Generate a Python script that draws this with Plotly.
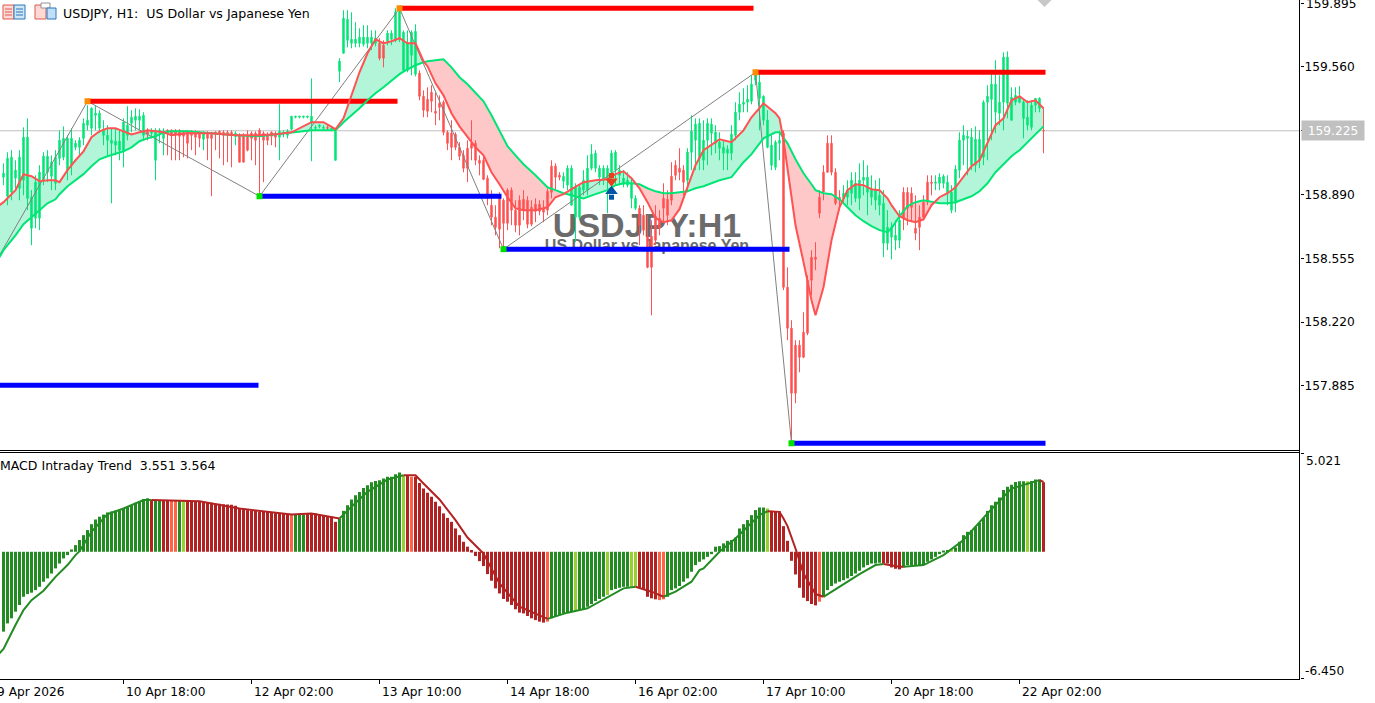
import plotly.graph_objects as go

# ---------- candles (USDJPY H1), one entry per bar ----------
opens = [
158.981,158.881,158.902,158.976,158.923,158.965,158.87,158.713,158.766,158.766,
158.965,159.007,158.986,158.949,159.08,159.086,159.018,159.044,159.138,159.138,
159.185,159.254,159.238,159.306,159.238,159.201,159.175,159.159,159.149,159.123,
159.123,159.201,159.264,159.28,159.28,159.201,159.227,159.212,159.07,159.217,
159.185,159.227,159.227,159.227,159.227,159.217,159.222,159.222,159.217,159.212,
159.18,159.212,159.206,159.217,159.222,159.217,159.217,159.217,159.196,159.201,
159.201,159.196,159.212,159.212,159.227,159.212,159.206,159.217,159.212,159.191,
159.212,159.201,159.233,159.296,159.296,159.296,159.296,159.27,159.238,159.248,
159.238,159.243,159.233,159.07,159.537,159.632,159.70,159.684,159.684,159.684,
159.679,159.684,159.684,159.684,159.684,159.674,159.695,159.705,159.70,159.711,
159.542,159.542,159.621,159.522,159.527,159.406,159.39,159.427,159.327,159.369,
159.375,159.217,159.212,159.206,159.138,159.096,159.133,159.159,159.159,159.07,
159.07,158.976,158.834,158.771,158.876,158.86,158.913,158.913,158.808,158.86,
158.865,158.86,158.823,158.839,158.839,158.818,158.907,159.039,159.039,158.991,
158.96,158.939,158.834,158.771,158.771,158.913,158.913,159.028,159.028,158.981,
158.965,158.976,159.007,159.018,158.991,158.944,158.939,158.87,158.818,158.818,
158.781,158.671,158.671,158.776,158.766,158.87,158.865,158.986,159.044,159.028,
159.018,158.965,159.112,159.175,159.08,159.07,159.175,159.212,159.159,159.133,
159.107,159.107,159.107,159.201,159.322,159.364,159.375,159.38,159.49,159.395,
159.28,159.138,159.044,159.033,159.159,159.212,158.403,158.188,158.099,158.099,
158.167,158.44,158.561,158.561,158.876,159.007,159.159,159.159,159.007,158.876,
158.87,158.876,158.897,158.87,158.87,158.965,158.902,158.876,158.86,158.834,
158.634,158.634,158.666,158.65,158.65,158.902,158.902,158.897,158.713,158.771,
158.85,158.955,158.955,158.949,158.949,158.949,158.897,158.808,158.844,159.018,
159.175,159.185,159.044,159.044,159.07,159.086,159.375,159.39,159.322,159.317,
159.375,159.369,159.28,159.375,159.375,159.29,159.254,159.243,159.359,159.343,159.227]
highs = [
159.054,159.112,159.123,159.07,159.123,159.243,159.29,158.913,158.991,159.044,
159.112,159.123,159.096,159.123,159.227,159.248,159.201,159.238,159.175,159.191,
159.29,159.359,159.348,159.359,159.333,159.28,159.254,159.238,159.238,159.227,
159.29,159.354,159.333,159.343,159.338,159.322,159.238,159.238,159.238,159.238,
159.238,159.233,159.233,159.233,159.233,159.227,159.227,159.227,159.227,159.222,
159.222,159.222,159.217,159.222,159.227,159.227,159.227,159.227,159.222,159.212,
159.212,159.227,159.222,159.222,159.238,159.222,159.217,159.222,159.222,159.364,
159.227,159.233,159.301,159.301,159.301,159.301,159.301,159.5,159.254,159.259,
159.254,159.254,159.248,159.238,159.606,159.858,159.858,159.847,159.795,159.763,
159.779,159.779,159.752,159.752,159.711,159.70,159.752,159.752,159.868,159.868,
159.752,159.752,159.752,159.784,159.542,159.437,159.453,159.464,159.427,159.411,
159.385,159.227,159.28,159.217,159.165,159.123,159.175,159.28,159.175,159.096,
159.096,158.991,158.913,158.834,158.902,158.87,158.923,158.928,158.86,158.886,
158.913,158.881,158.86,158.87,158.86,158.86,158.923,159.07,159.054,159.007,
159.007,159.044,159.044,158.949,158.939,159.018,159.096,159.154,159.123,159.044,
159.044,159.044,159.123,159.123,159.044,159.018,159.007,158.976,158.886,158.834,
158.834,158.781,158.755,158.834,158.808,158.949,158.913,159.06,159.07,159.133,
159.044,159.133,159.306,159.29,159.29,159.28,159.29,159.29,159.254,159.217,
159.175,159.149,159.254,159.375,159.427,159.448,159.464,159.516,159.532,159.532,
159.411,159.333,159.201,159.175,159.227,159.227,158.508,158.23,158.125,158.125,
158.272,158.466,158.598,158.64,158.913,159.044,159.201,159.201,159.028,158.913,
158.939,158.965,159.007,159.007,159.054,159.07,159.044,158.991,158.965,158.976,
158.913,158.808,158.745,158.755,158.808,158.928,158.928,158.928,158.886,158.834,
158.886,158.991,158.991,158.991,159.002,158.996,158.991,158.939,159.044,159.217,
159.254,159.227,159.238,159.248,159.227,159.385,159.464,159.532,159.595,159.516,
159.637,159.642,159.453,159.453,159.459,159.385,159.385,159.385,159.395,159.401,159.343]
lows = [
158.939,158.834,158.86,158.913,158.86,158.886,158.808,158.624,158.713,158.703,
158.939,158.955,158.913,158.913,159.044,159.07,158.965,158.991,159.123,159.096,
159.149,159.227,159.201,159.227,159.212,159.149,159.096,158.844,159.096,159.07,
159.033,159.175,159.217,159.227,159.227,159.175,159.175,159.185,158.965,159.159,
159.096,159.096,159.07,159.07,159.07,159.086,159.08,159.123,159.096,159.138,
159.123,159.07,158.881,159.123,159.08,159.044,159.06,159.033,159.149,159.06,
159.06,159.117,159.07,159.044,158.892,158.955,159.149,159.149,159.138,159.07,
159.191,159.185,159.227,159.29,159.29,159.29,159.29,159.065,159.227,159.238,
159.227,159.227,159.222,159.07,159.48,159.632,159.663,159.658,159.663,159.663,
159.668,159.658,159.648,159.668,159.595,159.558,159.674,159.674,159.69,159.69,
159.532,159.532,159.516,159.511,159.385,159.296,159.296,159.322,159.254,159.28,
159.201,159.123,159.07,159.123,159.07,159.007,158.955,159.07,159.044,158.991,
158.965,158.834,158.729,158.676,158.608,158.598,158.703,158.729,158.692,158.676,
158.755,158.713,158.724,158.745,158.781,158.745,158.781,158.87,158.913,158.965,
158.923,158.913,158.834,158.64,158.755,158.886,158.886,159.018,159.007,158.939,
158.939,158.792,158.939,158.939,158.939,158.928,158.928,158.818,158.808,158.624,
158.676,158.503,158.256,158.624,158.676,158.745,158.729,158.834,158.965,158.965,
158.886,158.902,159.018,159.018,159.018,159.018,159.044,159.096,159.107,159.07,
159.018,159.018,159.07,159.175,159.28,159.322,159.322,159.364,159.464,159.227,
159.254,159.133,159.018,159.018,159.07,158.388,158.125,157.6,157.794,157.957,
158.031,158.151,158.361,158.493,158.766,158.86,159.007,158.991,158.834,158.808,
158.844,158.834,158.834,158.85,158.808,158.886,158.781,158.834,158.808,158.781,
158.561,158.598,158.55,158.598,158.608,158.703,158.729,158.745,158.65,158.598,
158.755,158.834,158.886,158.913,158.913,158.923,158.834,158.792,158.797,158.976,
159.044,158.991,159.018,159.007,159.028,159.044,159.07,159.175,159.212,159.254,
159.227,159.29,159.28,159.359,159.369,159.185,159.227,159.227,159.322,159.322,159.107]
closes = [
159.002,159.08,159.086,159.018,159.086,159.191,159.191,158.876,158.955,159.007,
159.091,159.091,159.06,159.086,159.175,159.185,159.185,159.185,159.159,159.175,
159.264,159.28,159.343,159.317,159.317,159.227,159.201,159.175,159.17,159.17,
159.27,159.254,159.296,159.301,159.301,159.306,159.206,159.227,159.217,159.227,
159.222,159.212,159.201,159.206,159.196,159.196,159.159,159.201,159.191,159.185,
159.212,159.185,159.185,159.206,159.212,159.201,159.201,159.201,159.212,159.06,
159.06,159.123,159.185,159.175,159.196,159.175,159.175,159.196,159.191,159.222,
159.217,159.222,159.301,159.301,159.301,159.301,159.301,159.301,159.243,159.254,
159.243,159.238,159.238,159.222,159.59,159.816,159.81,159.705,159.705,159.716,
159.716,159.716,159.716,159.711,159.606,159.606,159.737,159.737,159.847,159.852,
159.742,159.684,159.742,159.747,159.406,159.333,159.327,159.38,159.317,159.348,
159.217,159.159,159.138,159.138,159.091,159.028,159.028,159.133,159.07,159.054,
158.97,158.87,158.771,158.718,158.708,158.739,158.739,158.808,158.729,158.729,
158.808,158.734,158.734,158.802,158.802,158.797,158.808,158.902,158.981,158.981,
158.986,159.028,159.028,158.928,158.928,158.965,159.028,159.102,159.107,159.028,
159.028,159.028,159.107,159.112,159.018,158.976,158.965,158.949,158.87,158.729,
158.703,158.508,158.508,158.65,158.713,158.818,158.781,158.86,158.991,159.007,
158.955,159.112,159.222,159.259,159.264,159.175,159.264,159.259,159.217,159.165,
159.138,159.128,159.206,159.322,159.364,159.375,159.39,159.469,159.527,159.48,
159.406,159.28,159.149,159.165,159.175,158.403,158.188,157.847,157.847,158.036,
158.036,158.162,158.44,158.55,158.792,158.902,159.007,159.007,158.844,158.86,
158.897,158.913,158.965,158.949,158.965,158.981,158.981,158.913,158.913,158.886,
158.844,158.718,158.718,158.676,158.755,158.766,158.818,158.823,158.687,158.718,
158.771,158.85,158.949,158.955,158.981,158.986,158.955,158.902,159.023,159.175,
159.201,159.196,159.191,159.18,159.18,159.375,159.406,159.469,159.469,159.375,
159.611,159.611,159.401,159.411,159.401,159.375,159.296,159.359,159.395,159.395,159.225]

# ---------- moving averages, read at these bars ----------
ma_bars = [-1,0,3,5,7,9,11,13,14,16,18,20,22,24,26,28,30,32,34,36,38,40,42,46,52,58,64,68,72,74,77,80,82,83,85,87,89,91,93,95,97,99,101,103,105,106,108,110,112,114,116,118,120,122,124,126,128,130,133,136,138,140,142,145,148,151,153,155,157,159,161,163,165,167,169,171,173,175,179,182,185,187,190,193,194,195,196,198,200,202,203,205,207,209,211,213,215,217,219,221,222,224,226,228,230,232,234,236,238,240,242,244,246,248,250,252,254,256,258,260]
ma_fast = [158.834,158.85,158.913,158.997,158.986,158.96,158.965,158.965,158.955,159.018,159.07,159.117,159.191,159.222,159.238,159.238,159.222,159.206,159.217,159.227,159.222,159.217,159.201,159.212,159.212,159.201,159.201,159.206,159.217,159.238,159.27,159.27,159.248,159.233,159.29,159.411,159.532,159.632,159.705,159.684,159.695,159.711,159.684,159.684,159.59,159.564,159.474,159.411,159.317,159.248,159.191,159.138,159.096,159.007,158.944,158.876,158.818,158.808,158.808,158.823,158.876,158.892,158.918,158.955,158.965,158.97,158.997,159.012,158.976,158.923,158.85,158.766,158.745,158.755,158.813,158.923,159.044,159.123,159.18,159.165,159.227,159.296,159.369,159.317,159.29,159.175,159.018,158.729,158.535,158.335,158.256,158.403,158.65,158.823,158.913,158.944,158.939,158.918,158.913,158.87,158.834,158.776,158.755,158.745,158.76,158.834,158.876,158.897,158.928,158.986,159.039,159.07,159.159,159.254,159.29,159.385,159.406,159.375,159.385,159.343]
ma_slow = [158.561,158.598,158.676,158.734,158.771,158.808,158.844,158.865,158.892,158.934,158.965,158.997,159.039,159.075,159.091,159.102,159.117,159.138,159.17,159.185,159.196,159.217,159.222,159.222,159.212,159.201,159.196,159.206,159.217,159.222,159.227,159.227,159.227,159.227,159.27,159.306,159.343,159.385,159.422,159.453,159.49,159.522,159.548,159.569,159.585,159.59,159.595,159.6,159.558,159.506,159.469,159.427,159.38,159.306,159.222,159.144,159.096,159.049,158.991,158.928,158.913,158.897,158.886,158.87,158.892,158.913,158.939,158.949,158.949,158.944,158.923,158.907,158.897,158.897,158.902,158.907,158.923,158.934,158.965,158.981,159.06,159.102,159.185,159.217,159.217,159.191,159.159,159.075,159.002,158.944,158.913,158.897,158.892,158.865,158.823,158.781,158.75,158.724,158.703,158.692,158.713,158.776,158.829,158.85,158.86,158.85,158.844,158.844,158.85,158.865,158.881,158.907,158.949,159.007,159.049,159.091,159.123,159.165,159.206,159.248]

# ---------- zigzag swings ----------
zig_bars = [-1,21,64,99,125,188,197]
zig_prices = [158.571,159.38,158.881,159.868,158.603,159.532,157.584]

# ---------- support / resistance levels ----------
res_start = [21,99,188]
res_end = [98.5,187.5,260.5]
res_price = [159.38,159.868,159.532]
sup_start = [-1,64,125,197]
sup_end = [63.75,124.5,196.5,260.5]
sup_price = [157.889,158.881,158.603,157.584]

# ---------- signal arrows: head and stem levels ----------
sell_bar, sell_head, sell_stem = [152], [158.96], [158.99]
buy_bar, buy_head, buy_stem = [152], [158.907], [158.876]
bid_price = 159.225

# ---------- MACD histogram, one entry per bar ----------
macd_hist = [
-4.08,-3.66,-3.40,-3.06,-2.72,-2.30,-2.16,-2.09,-1.96,-1.79,
-1.53,-1.36,-1.11,-0.85,-0.60,-0.34,-0.17,0.12,0.34,0.60,
0.85,1.11,1.41,1.65,1.79,1.90,2.01,2.06,2.11,2.16,
2.21,2.30,2.38,2.50,2.60,2.70,2.74,2.64,2.64,2.64,
2.65,2.65,2.64,2.64,2.65,2.60,2.60,2.60,2.58,2.55,
2.52,2.52,2.50,2.47,2.45,2.43,2.41,2.40,2.35,2.21,
2.18,2.13,2.09,2.09,2.06,2.04,2.04,2.01,1.99,1.97,
1.96,1.92,1.90,1.90,1.90,1.90,1.92,1.96,1.96,1.90,
1.84,1.80,1.80,1.53,1.70,2.09,2.38,2.67,2.89,3.06,
3.26,3.40,3.55,3.62,3.66,3.74,3.83,3.83,3.96,4.05,
3.88,3.91,3.83,3.83,3.52,3.23,3.01,2.81,2.55,2.33,
1.96,1.73,1.53,1.19,0.85,0.51,0.26,0.09,-0.22,-0.48,
-0.73,-1.14,-1.48,-1.87,-2.13,-2.41,-2.55,-2.72,-2.94,-3.11,
-3.15,-3.28,-3.40,-3.49,-3.57,-3.62,-3.57,-3.40,-3.32,-3.23,
-3.15,-3.09,-3.03,-3.01,-2.98,-2.94,-2.81,-2.67,-2.52,-2.41,
-2.30,-2.21,-1.96,-1.90,-1.84,-1.79,-1.79,-1.79,-1.79,-1.84,
-1.92,-2.30,-2.38,-2.43,-2.47,-2.43,-2.30,-1.96,-1.87,-1.75,
-1.53,-1.36,-1.02,-0.68,-0.51,-0.39,-0.26,-0.12,0.26,0.29,
0.43,0.56,0.60,0.73,1.19,1.41,1.62,1.87,2.13,2.26,
2.26,2.21,2.09,2.07,2.07,1.31,0.56,-0.46,-1.16,-1.84,
-2.35,-2.52,-2.67,-2.74,-2.55,-2.30,-1.96,-1.75,-1.62,-1.53,
-1.45,-1.36,-1.24,-1.11,-0.97,-0.80,-0.68,-0.60,-0.60,-0.56,
-0.60,-0.60,-0.80,-0.87,-0.90,-0.80,-0.68,-0.68,-0.68,-0.68,
-0.68,-0.51,-0.39,-0.26,-0.12,0.05,0.09,0.12,0.22,0.51,
0.85,1.02,1.11,1.28,1.48,1.73,2.09,2.38,2.55,2.77,
3.15,3.32,3.43,3.57,3.60,3.60,3.60,3.62,3.69,3.69,3.551]
# run lengths of the histogram state: G rising, R falling, Y weak rise, T weak fall
hist_runs = [("G",37),("R",1),("G",2),("R",2),("T",2),("G",1),("Y",1),("R",26),("T",1),("G",3),
             ("R",8),("G",16),("Y",1),("R",1),("T",1),("R",33),("T",1),("G",6),("Y",1),("G",7),
             ("Y",1),("G",5),("Y",2),("R",5),("T",2),("G",25),("Y",1),("R",12),("T",1),("G",15),
             ("R",5),("G",12),("Y",1),("G",18),("Y",1),("G",3),("R",1)]
state_colors = {"G": "#228B22", "R": "#B22222", "Y": "#9ACD32", "T": "#FF6347"}

# ---------- MACD signal line ----------
sig_bars = [-1,0,3,5,7,10,13,16,18,19,22,26,30,35,37,49,59,66,72,77,82,84,86,87,91,96,100,103,105,109,113,116,119,120,124,129,136,141,146,151,155,158,162,165,168,172,174,175,179,183,189,191,194,195,196,198,200,203,205,209,214,218,220,222,224,225,230,235,240,246,252,259,260]
sig_vals = [-5.19,-4.96,-3.74,-2.98,-2.47,-1.99,-1.28,-0.68,-0.17,0.03,1.02,1.92,2.21,2.64,2.64,2.58,2.21,2.04,1.90,1.96,1.79,1.70,2.13,2.30,3.06,3.69,3.91,3.91,3.49,2.67,1.62,0.73,0.12,-0.09,-1.62,-2.81,-3.43,-3.11,-2.89,-2.30,-1.87,-1.79,-2.04,-2.30,-2.04,-1.53,-0.94,-0.85,0.0,0.68,1.87,2.07,2.04,1.70,1.31,0.17,-1.11,-2.16,-2.30,-1.79,-1.14,-0.68,-0.63,-0.71,-0.77,-0.77,-0.68,-0.17,0.60,1.96,3.23,3.66,3.564]
sig_falling_from = [37,100,158,191,220,259]
sig_rising_from = [-1,84,136,165,205,225]

# ---------- axis labels ----------
price_ticks = [159.895,159.560,159.225,158.890,158.555,158.220,157.885]
price_tick_text = ["","159.560","","158.890","158.555","158.220","157.885"]
top_price_label = "159.895"
time_bars = [30,62,94,126,158,190,222,254]
time_labels = ["10 Apr 18:00","12 Apr 02:00","13 Apr 10:00","14 Apr 18:00",
               "16 Apr 02:00","17 Apr 10:00","20 Apr 18:00","22 Apr 02:00"]
first_label = "9 Apr 2026"

FONT = "DejaVu Sans"
W, H = 1375, 703
PW, PH = 1300, 679
bars = list(range(len(opens)))

def px(x):
    return x / PW
def py(y):
    return 1 - y / PH

# ---- cloud between the averages, as shapes beneath the candles ----
shapes = []
def cloud_path(xs, a, b):
    d = "M " + " L ".join(f"{x},{v}" for x, v in zip(xs, a))
    d += " L " + " L ".join(f"{x},{v}" for x, v in zip(xs[::-1], b[::-1])) + " Z"
    return d
seg_x, seg_f, seg_s, seg_up = [], [], [], None
def flush():
    if len(seg_x) > 1:
        shapes.append(dict(type="path", xref="x", yref="y", layer="below",
                           path=cloud_path(seg_x, seg_f, seg_s),
                           fillcolor="#B2F5D8" if seg_up else "#FFC8C8",
                           line=dict(width=0)))
for k in range(len(ma_bars)):
    x, f, s = ma_bars[k], ma_fast[k], ma_slow[k]
    up = f >= s
    if seg_up is None:
        seg_up = up
    if up != seg_up:
        x0, f0, s0 = seg_x[-1], seg_f[-1], seg_s[-1]
        d0, d1 = f0 - s0, f - s
        t = d0 / (d0 - d1)
        xc = x0 + t * (x - x0)
        vc = f0 + t * (f - f0)
        seg_x.append(xc); seg_f.append(vc); seg_s.append(vc)
        flush()
        seg_x, seg_f, seg_s, seg_up = [xc], [vc], [vc], up
    seg_x.append(x); seg_f.append(f); seg_s.append(s)
flush()

shapes.append(dict(type="line", xref="paper", yref="y", layer="below", x0=0, x1=1,
                   y0=bid_price, y1=bid_price, line=dict(color="#C0C0C0", width=1)))
# watermark, as shape labels so that candles and levels pass over it
shapes.append(dict(type="rect", xref="paper", yref="paper", layer="below",
                   x0=px(447), x1=px(847), y0=py(237), y1=py(207), line=dict(width=0),
                   label=dict(text="USDJPY:H1", textposition="middle center",
                              font=dict(family="Liberation Sans", size=34, color="#6B6B6B", weight="bold"))))
shapes.append(dict(type="rect", xref="paper", yref="paper", layer="below",
                   x0=px(447), x1=px(847), y0=py(251), y1=py(235), line=dict(width=0),
                   label=dict(text="US Dollar vs Japanese Yen", textposition="middle center",
                              font=dict(family="Liberation Sans", size=16, color="#6B6B6B", weight="bold"))))

# panel frame
for y in (450.5, 452.5):
    shapes.append(dict(type="line", xref="paper", yref="paper", x0=0, x1=px(1300), y0=py(y), y1=py(y),
                       line=dict(color="black", width=1)))
shapes.append(dict(type="line", xref="paper", yref="paper", x0=px(1299.5), x1=px(1299.5), y0=py(0), y1=py(679),
                   line=dict(color="black", width=1)))

# toolbar icons
def rect(x0, y0, x1, y1, fill, stroke):
    shapes.append(dict(type="rect", xref="paper", yref="paper", x0=px(x0), x1=px(x1), y0=py(y0), y1=py(y1),
                       fillcolor=fill, line=dict(color=stroke, width=1)))
def rule(x0, x1, y, col):
    shapes.append(dict(type="line", xref="paper", yref="paper", x0=px(x0), x1=px(x1), y0=py(y), y1=py(y),
                       line=dict(color=col, width=1)))
rect(3, 5, 14, 19, "#FCD9D4", "#E05A50")
rect(14, 5, 25, 19, "#CFE6F7", "#2A78B8")
for y in (9, 12, 15):
    rule(5, 12, y, "#E05A50")
    rule(16, 23, y, "#2A78B8")
rect(35, 5, 46, 19, "#FCD9D4", "#E05A50")
rect(41, 3, 50, 8, "#FFFFFF", "#909090")
rect(47, 8, 56, 19, "#BFE0F8", "#2A78B8")

traces = []
traces.append(go.Candlestick(
    x=bars, open=opens, high=highs, low=lows, close=closes, xaxis="x", yaxis="y", name="USDJPY",
    whiskerwidth=0,
    increasing=dict(line=dict(color="#00E676", width=1), fillcolor="#00E676"),
    decreasing=dict(line=dict(color="#FF5252", width=1), fillcolor="#FF5252")))
traces.append(go.Scatter(x=zig_bars, y=zig_prices, mode="lines", xaxis="x", yaxis="y", name="ZigZag",
                         line=dict(color="#808080", width=1)))
def level_trace(starts, ends, prices, col, name):
    xs, ys = [], []
    for a, b, p in zip(starts, ends, prices):
        xs += [a, b, None]
        ys += [p, p, None]
    return go.Scatter(x=xs, y=ys, mode="lines", xaxis="x", yaxis="y", name=name, line=dict(color=col, width=5))
traces.append(level_trace(res_start, res_end, res_price, "#FF0000", "Resistance"))
traces.append(level_trace(sup_start, sup_end, sup_price, "#0000FF", "Support"))
traces.append(go.Scatter(x=ma_bars, y=ma_slow, mode="lines", xaxis="x", yaxis="y", name="Slow",
                         line=dict(color="#00E676", width=2)))
traces.append(go.Scatter(x=ma_bars, y=ma_fast, mode="lines", xaxis="x", yaxis="y", name="Fast",
                         line=dict(color="#FF5252", width=2)))
swing_hi = [k for k in range(1, len(zig_bars), 2)]
swing_lo = [k for k in range(2, len(zig_bars), 2)]
traces.append(go.Scatter(x=[zig_bars[k] for k in swing_hi], y=[zig_prices[k] for k in swing_hi], mode="markers",
                         xaxis="x", yaxis="y", marker=dict(symbol="square", size=6, color="#FF8C00")))
traces.append(go.Scatter(x=[zig_bars[k] for k in swing_lo], y=[zig_prices[k] for k in swing_lo], mode="markers",
                         xaxis="x", yaxis="y", marker=dict(symbol="square", size=6, color="#00E000")))
for xs, ys, sym, size, col in [(sell_bar, sell_head, "triangle-down", 11, "#E6401E"),
                               (sell_bar, sell_stem, "square", 5, "#E6401E"),
                               (buy_bar, buy_head, "triangle-up", 11, "#0055A5"),
                               (buy_bar, buy_stem, "square", 5, "#0055A5")]:
    traces.append(go.Scatter(x=xs, y=ys, mode="markers", xaxis="x", yaxis="y",
                             marker=dict(symbol=sym, size=size, color=col, line=dict(width=0))))
traces.append(go.Scatter(x=[260.25], y=[159.912], mode="markers", xaxis="x", yaxis="y",
                         marker=dict(symbol="diamond", size=11, color="#C8C8C8")))

# MACD panel
hist_colors = []
for st, n in hist_runs:
    hist_colors += [state_colors[st]] * n
traces.append(go.Bar(x=bars, y=macd_hist, width=0.75, xaxis="x", yaxis="y2", name="MACD",
                     marker=dict(color=hist_colors, line=dict(width=0))))
def sig_trace(from_list, other, col):
    xs, ys = [], []
    starts = sorted(from_list)
    ends = sorted(other)
    for s in starts:
        e = next((v for v in ends if v > s), sig_bars[-1])
        for b, v in zip(sig_bars, sig_vals):
            if s <= b <= e:
                xs.append(b); ys.append(v)
        xs.append(None); ys.append(None)
    return go.Scatter(x=xs, y=ys, mode="lines", xaxis="x", yaxis="y2", line=dict(color=col, width=2))
traces.append(sig_trace(sig_rising_from, sig_falling_from, "#228B22"))
traces.append(sig_trace(sig_falling_from, sig_rising_from, "#B22222"))

annotations = [
    dict(x=px(61), y=py(13), xref="paper", yref="paper", xanchor="left", yanchor="middle", showarrow=False,
         text="USDJPY, H1:  US Dollar vs Japanese Yen", font=dict(family=FONT, size=12.6, color="black")),
    dict(x=px(-2), y=py(465), xref="paper", yref="paper", xanchor="left", yanchor="middle", showarrow=False,
         text="MACD Intraday Trend  3.551 3.564", font=dict(family=FONT, size=12.5, color="black")),
    dict(x=px(1301), y=py(130.5), xref="paper", yref="paper", xanchor="left", yanchor="middle", showarrow=False,
         text="159.225", bgcolor="#C0C0C0", width=60, height=17, font=dict(family=FONT, size=12.2, color="white")),
    dict(x=px(1304), y=py(4), xref="paper", yref="paper", xanchor="left", yanchor="middle", showarrow=False,
         text=top_price_label, font=dict(family=FONT, size=12.2, color="black")),
    dict(x=px(1304), y=py(461), xref="paper", yref="paper", xanchor="left", yanchor="middle", showarrow=False,
         text="5.021", font=dict(family=FONT, size=12.2, color="black")),
    dict(x=px(1303), y=py(671), xref="paper", yref="paper", xanchor="left", yanchor="middle", showarrow=False,
         text="-6.450", font=dict(family=FONT, size=12.2, color="black")),
    dict(x=px(-5), y=py(692), xref="paper", yref="paper", xanchor="left", yanchor="middle", showarrow=False,
         text=first_label, font=dict(family=FONT, size=12.2, color="black")),
]
for b, t in zip(time_bars, time_labels):
    annotations.append(dict(x=b, y=py(692), xref="x", yref="paper", xanchor="left", yanchor="middle",
                            showarrow=False, text=t, font=dict(family=FONT, size=12.2, color="black")))

fig = go.Figure(traces)
fig.update_layout(
    width=W, height=H, autosize=False, showlegend=False, hovermode=False,
    paper_bgcolor="white", plot_bgcolor="white",
    margin=dict(l=0, r=W - PW, t=0, b=H - PH, pad=0),
    boxgap=0.5, bargap=0.25,
    shapes=shapes, annotations=annotations,
    xaxis=dict(domain=[0, 1], anchor="y2", range=[-0.875, 324.125], showgrid=False, zeroline=False,
               rangeslider=dict(visible=False), tickmode="array", tickvals=time_bars, ticktext=[""] * len(time_bars),
               ticks="outside", ticklen=4, tickcolor="black", showline=True, linecolor="black", linewidth=1),
    yaxis=dict(domain=[1 - 450 / PH, 1], anchor="x", side="right", range=[157.5486, 159.9116], showgrid=False,
               zeroline=False, tickmode="array", tickvals=price_ticks, ticktext=price_tick_text,
               ticks="outside", ticklen=3, tickcolor="black", showline=False,
               ticklabelstandoff=-2, tickfont=dict(family=FONT, size=12.2, color="black")),
    yaxis2=dict(domain=[0, 1 - 452.5 / PH], anchor="x", side="right", range=[-6.50, 5.072], showgrid=False,
                zeroline=False, tickmode="array", tickvals=[5.021, -6.45], showticklabels=False,
                ticks="outside", ticklen=3, tickcolor="black", showline=False),
)
fig.write_html("out.html", config={"displayModeBar": False},
               post_script="document.body.style.margin='0';document.body.style.overflow='hidden';")
